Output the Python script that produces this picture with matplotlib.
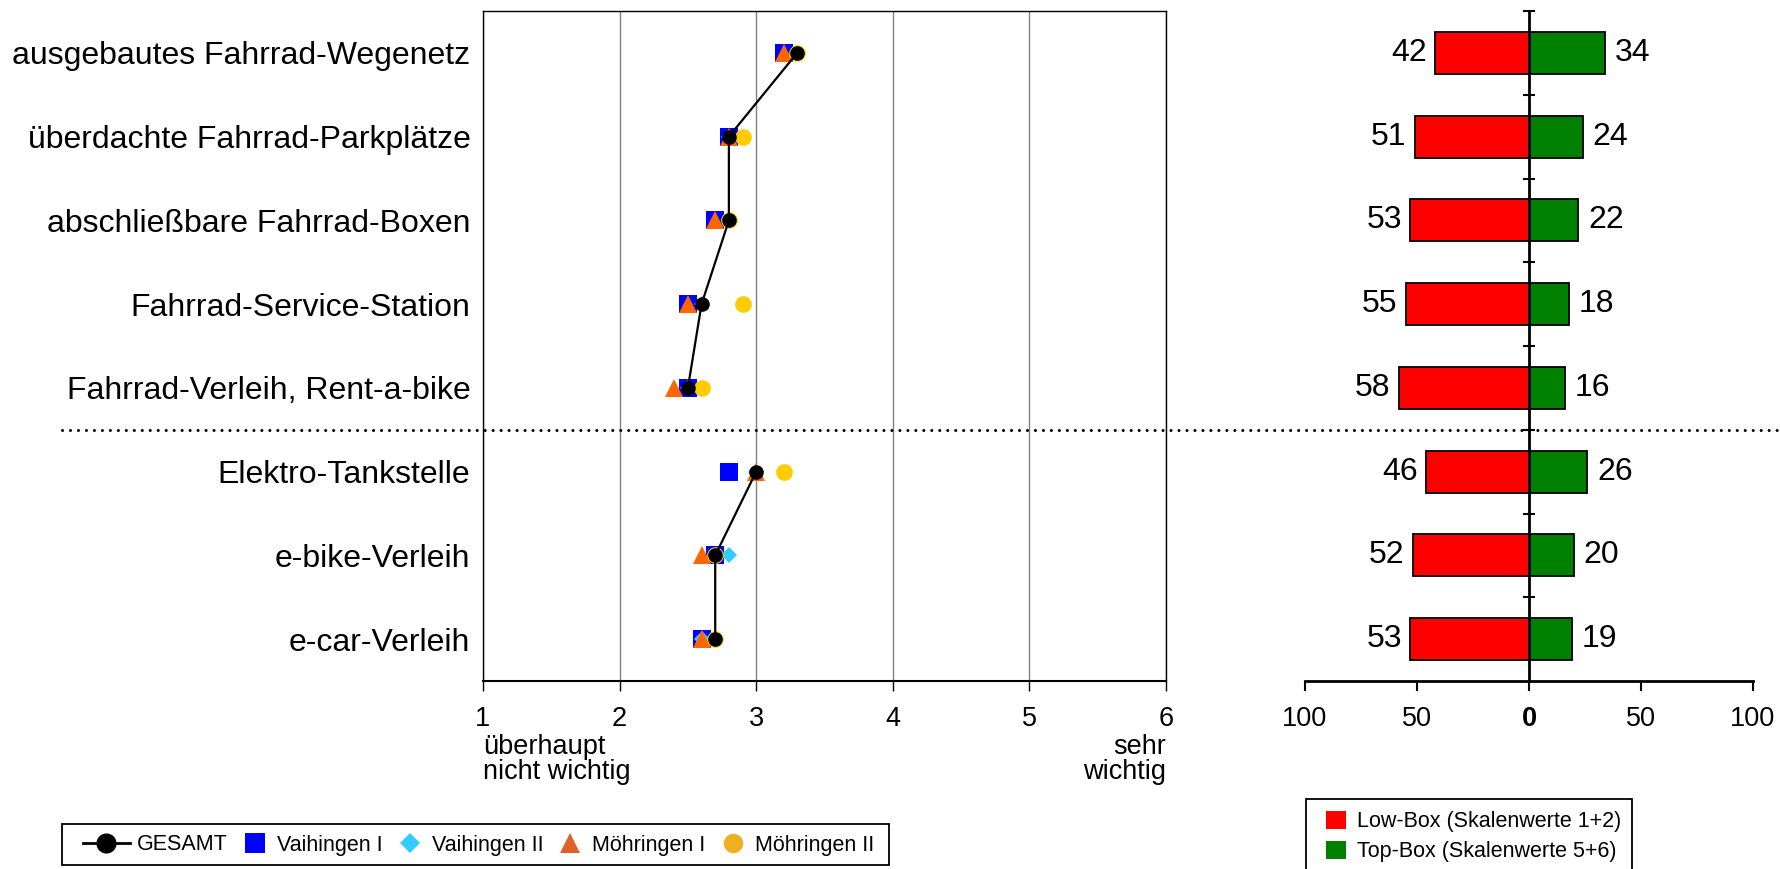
import matplotlib
matplotlib.use('Agg')
import matplotlib.pyplot as plt
from matplotlib.lines import Line2D
from matplotlib.patches import Patch, Rectangle
from matplotlib.legend_handler import HandlerLine2D
import matplotlib.transforms as mtransforms
import numpy as np

plt.rcParams['font.family'] = ['Liberation Sans', 'DejaVu Sans']

categories = ["ausgebautes Fahrrad-Wegenetz", "überdachte Fahrrad-Parkplätze",
              "abschließbare Fahrrad-Boxen", "Fahrrad-Service-Station",
              "Fahrrad-Verleih, Rent-a-bike", "Elektro-Tankstelle",
              "e-bike-Verleih", "e-car-Verleih"]
group_sizes = [5, 3]  # Fahrrad items / electric items (separated by dotted line)
gesamt = [3.3, 2.8, 2.8, 2.6, 2.5, 3.0, 2.7, 2.7]
vaihingen1 = [3.2, 2.8, 2.7, 2.5, 2.5, 2.8, 2.7, 2.6]
vaihingen2 = [3.3, 2.8, 2.8, 2.6, 2.5, 3.0, 2.8, 2.6]
moehringen1 = [3.2, 2.8, 2.7, 2.5, 2.4, 3.0, 2.6, 2.6]
moehringen2 = [3.3, 2.9, 2.8, 2.9, 2.6, 3.2, 2.7, 2.7]
low_box = [42, 51, 53, 55, 58, 46, 52, 53]
top_box = [34, 24, 22, 18, 16, 26, 20, 19]
scale_ticks = [1, 2, 3, 4, 5, 6]
pct_ticks = [-100, -50, 0, 50, 100]
pct_labels = ["100", "50", "0", "50", "100"]

W, H = 1781, 869
fig = plt.figure(figsize=(W / 100, H / 100), dpi=100)
bottom = 1 - 681 / H
height = (681 - 11) / H
ax = fig.add_axes([483 / W, bottom, (1166 - 483) / W, height])
ax2 = fig.add_axes([1305 / W, bottom, (1753 - 1305) / W, height])

y = np.arange(len(categories))

# ---- left panel ----
ax.set_xlim(1, 6)
ax.set_ylim(len(categories) - 0.5, -0.5)
ax.set_xticks(scale_ticks)
ax.set_xticklabels([str(t) for t in scale_ticks], fontsize=19.5)
ax.xaxis.grid(True, color='#808080', lw=1)
ax.set_axisbelow(True)
ax.tick_params(axis='x', direction='out', length=7, width=1, pad=11)
ax.set_yticks(y)
ax.set_yticklabels(categories, fontsize=23)
ax.tick_params(axis='y', length=0, pad=9)
for s in ax.spines.values():
    s.set_linewidth(1)
    s.set_color('black')
ax.spines['bottom'].set_linewidth(1.5)

ax.plot(vaihingen1, y, 's', ls='none', color='#0000FF', ms=12.5, mew=0, zorder=3)
ax.plot(vaihingen2, y, 'D', ls='none', color='#33CCFF', ms=8.2, mew=0, zorder=3.1)
ax.plot(moehringen1, y, '^', ls='none', color='#FF6600', ms=13, mew=0, zorder=3.2)
ax.plot(moehringen2, y, 'o', ls='none', color='#FFCC00', ms=12, mew=0, zorder=3.3)
start = 0
for n in group_sizes:
    ax.plot(gesamt[start:start + n], y[start:start + n], '-', color='black', lw=1.6, zorder=3.4)
    start += n
ax.plot(gesamt, y, 'o', ls='none', color='black', ms=10.5, mew=0, zorder=3.5)

ax.annotate("überhaupt\nnicht wichtig", xy=(0, 0), xycoords='axes fraction',
            xytext=(0, -38.5), textcoords='offset points', ha='left', va='top',
            fontsize=19.5, linespacing=0.95)
ax.annotate("sehr\nwichtig", xy=(1, 0), xycoords='axes fraction',
            xytext=(0, -38.5), textcoords='offset points', ha='right', va='top',
            fontsize=19.5, linespacing=0.95, multialignment='right')

# ---- right panel ----
ax2.set_xlim(-100, 100)
ax2.set_ylim(len(categories) - 0.5, -0.5)
ax2.barh(y, [-v for v in low_box], height=0.5, color='#FF0000', edgecolor='black', lw=1.3, zorder=2)
ax2.barh(y, top_box, height=0.5, color='#008000', edgecolor='black', lw=1.3, zorder=2)
for yi, lo, hi in zip(y, low_box, top_box):
    ax2.annotate(str(lo), xy=(-lo, yi), xytext=(-6, 0), textcoords='offset points',
                 ha='right', va='center', fontsize=23)
    ax2.annotate(str(hi), xy=(hi, yi), xytext=(7, 0), textcoords='offset points',
                 ha='left', va='center', fontsize=23)
for side in ['top', 'right']:
    ax2.spines[side].set_visible(False)
ax2.spines['left'].set_position(('data', 0))
ax2.spines['left'].set_linewidth(2)
ax2.spines['left'].set_zorder(3)
ax2.spines['bottom'].set_linewidth(2)
ax2.set_yticks(np.arange(-0.5, len(categories) - 0.5, 1))
ax2.set_yticklabels([])
ax2.tick_params(axis='y', direction='inout', length=9, width=1.5)
ax2.set_xticks(pct_ticks)
ax2.set_xticklabels(pct_labels, fontsize=19.5)
ax2.tick_params(axis='x', direction='out', length=7, width=1.5, pad=11)
for lab in ax2.get_xticklabels():
    if lab.get_text() == "0":
        lab.set_fontweight('bold')

# ---- dotted separator ----
trans = mtransforms.blended_transform_factory(fig.transFigure, ax.transData)
sep = Line2D([62 / W, 1.0], [group_sizes[0] - 0.5] * 2, transform=trans, color='black', lw=2.2,
             linestyle=(0, (0.01, 2.6)), dash_capstyle='round', clip_on=False)
fig.add_artist(sep)


# ---- legends ----
class LongLineHandler(HandlerLine2D):
    def create_artists(self, legend, orig_handle, xdescent, ydescent, width,
                       height, fontsize, trans):
        ext = 0.58 * fontsize * 100 / 72
        x0 = -xdescent - ext
        x1 = width - xdescent
        yc = (height - ydescent) / 2
        line = Line2D([x0, x1], [yc, yc], color='black', lw=2, transform=trans)
        mk = Line2D([(x0 + x1) / 2], [yc], color='black', marker='o', ms=14.5,
                    mew=0, ls='none', transform=trans)
        return [line, mk]


h1 = [Line2D([], [], color='black', lw=2, marker='o', ms=14, mew=0),
      Line2D([], [], color='#0000FF', ls='none', marker='s', ms=14, mew=0),
      Line2D([], [], color='#33CCFF', ls='none', marker='D', ms=10, mew=0),
      Line2D([], [], color='#E0602A', ls='none', marker='^', ms=15, mew=0),
      Line2D([], [], color='#EEB020', ls='none', marker='o', ms=14, mew=0)]
l1 = ["GESAMT", "Vaihingen I", "Vaihingen II", "Möhringen I", "Möhringen II"]
leg1 = fig.legend(h1, l1, loc='center left', bbox_to_anchor=(100 / W, 1 - 845 / H),
                  ncol=5, fontsize=15.5, frameon=False, borderaxespad=0,
                  borderpad=0, handlelength=1.4, handletextpad=0.33,
                  columnspacing=0.55, handler_map={h1[0]: LongLineHandler()})
fig.add_artist(Rectangle((62 / W, 1 - 865 / H), (889 - 62) / W, 41 / H,
                         transform=fig.transFigure, facecolor='none',
                         edgecolor='black', lw=1.3))

h2 = [Patch(facecolor='#FF0000', edgecolor='none'),
      Patch(facecolor='#008000', edgecolor='none')]
l2 = ["Low-Box (Skalenwerte 1+2)", "Top-Box (Skalenwerte 5+6)"]
leg2 = fig.legend(h2, l2, loc='center left', bbox_to_anchor=(1326 / W, 1 - 836.5 / H),
                  fontsize=15.5, frameon=False, borderaxespad=0, borderpad=0,
                  handlelength=0.93, handleheight=0.93, handletextpad=0.5,
                  labelspacing=0.4)
fig.add_artist(Rectangle((1306 / W, 1 - 900 / H), (1632 - 1306) / W, 101 / H,
                         transform=fig.transFigure, facecolor='none',
                         edgecolor='black', lw=1.3, clip_on=False))

fig.savefig('out.png', dpi=100)
